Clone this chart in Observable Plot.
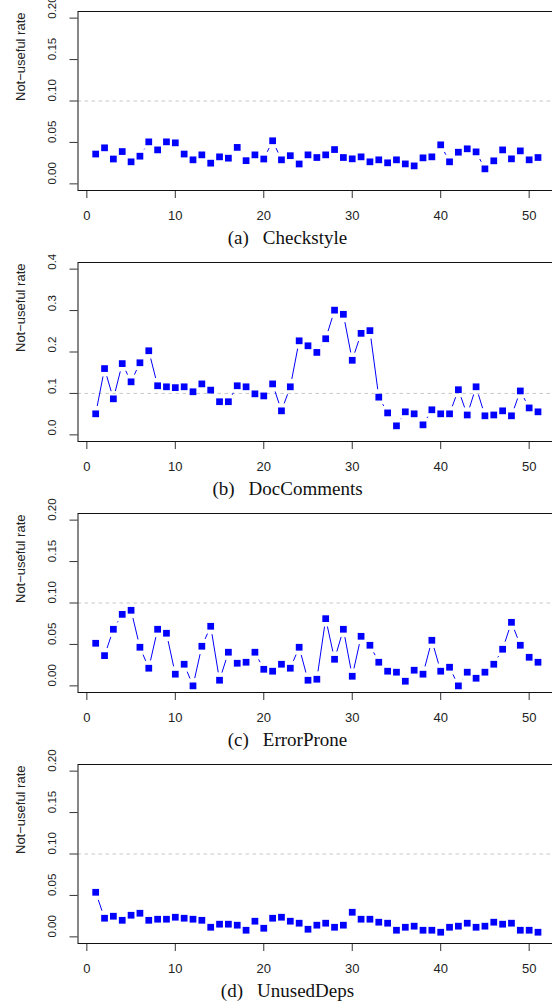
<!DOCTYPE html>
<html>
<head>
<meta charset="utf-8">
<script src="https://cdn.jsdelivr.net/npm/d3@7"></script>
<script src="https://cdn.jsdelivr.net/npm/@observablehq/plot@0.6"></script>
<style>
  html, body { margin: 0; padding: 0; background: white; overflow: hidden; }
  .block { position: relative; width: 552px; height: 251px; }
  .cap { position: absolute; left: 0; top: 225px; width: 552px; height: 26px; line-height: 26px;
         font-family: "Liberation Serif", "Times New Roman", serif; font-size: 19px; color: #111;
         text-align: center; padding-left: 23px; box-sizing: border-box; white-space: nowrap; }
  .cap .nm { margin-left: 14px; }
</style>
</head>
<body>
<div id="root"></div>
<script>
// ---- data ----
const builds = d3.range(1, 52); // x: 1..51

const checkstyle = [0.036,0.0435,0.030,0.039,0.0266,0.0334,0.0507,0.041,0.0507,0.0495,
  0.036,0.029,0.035,0.025,0.0326,0.031,0.044,0.028,0.035,0.030,
  0.052,0.029,0.034,0.024,0.035,0.0318,0.035,0.0414,0.0318,0.0302,
  0.0326,0.0266,0.029,0.0254,0.029,0.0241,0.0217,0.0314,0.0326,0.0471,
  0.0266,0.0382,0.0423,0.0386,0.0181,0.0278,0.041,0.0302,0.0398,0.029,0.0318];

const docComments = [0.0508,0.160,0.087,0.172,0.128,0.174,0.203,0.1185,0.116,0.114,
  0.116,0.104,0.123,0.108,0.080,0.080,0.1185,0.116,0.099,0.094,
  0.123,0.058,0.116,0.227,0.215,0.199,0.232,0.301,0.291,0.180,
  0.245,0.2516,0.091,0.053,0.0218,0.0556,0.0508,0.0242,0.0605,0.0508,
  0.0508,0.109,0.048,0.116,0.046,0.048,0.058,0.046,0.106,0.065,0.0556];

const errorProne = [0.0514,0.0365,0.0683,0.0863,0.0912,0.0466,0.0213,0.0683,0.0635,0.0141,
  0.0261,0.0,0.0478,0.0719,0.0068,0.0406,0.0273,0.0285,0.0406,0.020,
  0.0177,0.0261,0.0213,0.0466,0.0068,0.008,0.0811,0.0321,0.0683,0.0116,
  0.0598,0.049,0.0285,0.0177,0.0165,0.0056,0.0189,0.0141,0.055,0.0177,
  0.0225,0.0,0.0165,0.0092,0.0165,0.0261,0.0442,0.0767,0.049,0.0345,0.0285];

const unusedDeps = [0.0538,0.0225,0.0249,0.020,0.0261,0.0285,0.020,0.0213,0.0213,0.0237,
  0.0225,0.0213,0.020,0.0116,0.0153,0.0153,0.0141,0.008,0.0189,0.0104,
  0.0225,0.0237,0.0189,0.0165,0.0092,0.0141,0.0165,0.0116,0.0141,0.0297,
  0.0213,0.0213,0.0177,0.0165,0.008,0.0116,0.0129,0.008,0.008,0.0056,
  0.0116,0.0129,0.0165,0.0116,0.0129,0.0177,0.0153,0.0165,0.008,0.008,0.0056];

const xTicks = [0, 10, 20, 30, 40, 50];
const yTicksSmall = [0, 0.05, 0.10, 0.15, 0.20];
const yTickLabelsSmall = ["0.00", "0.05", "0.10", "0.15", "0.20"];
const yTicksLarge = [0, 0.1, 0.2, 0.3, 0.4];
const yTickLabelsLarge = ["0.0", "0.1", "0.2", "0.3", "0.4"];
const threshold = 0.1;
const yTitle = "Not\u2212useful rate";

const panels = [
  {tag: "(a)", name: "Checkstyle", values: checkstyle, ymax: 0.2, ticks: yTicksSmall, labels: yTickLabelsSmall},
  {tag: "(b)", name: "DocComments", values: docComments, ymax: 0.4, ticks: yTicksLarge, labels: yTickLabelsLarge},
  {tag: "(c)", name: "ErrorProne", values: errorProne, ymax: 0.2, ticks: yTicksSmall, labels: yTickLabelsSmall},
  {tag: "(d)", name: "UnusedDeps", values: unusedDeps, ymax: 0.2, ticks: yTicksSmall, labels: yTickLabelsSmall}
];

// R type="b": line segments with gaps around points
function gapRender(gap) {
  return (index, scales, values, dimensions, context, next) => {
    const {x1, y1, x2, y2} = values;
    const n = x1.length;
    const X1 = new Float64Array(n), Y1 = new Float64Array(n), X2 = new Float64Array(n), Y2 = new Float64Array(n);
    const keep = [];
    for (const i of index) {
      const dx = x2[i] - x1[i], dy = y2[i] - y1[i];
      const L = Math.hypot(dx, dy);
      if (L <= 2 * gap) continue;
      const ux = dx / L, uy = dy / L;
      X1[i] = x1[i] + ux * gap; Y1[i] = y1[i] + uy * gap;
      X2[i] = x2[i] - ux * gap; Y2[i] = y2[i] - uy * gap;
      keep.push(i);
    }
    return next(keep, scales, {...values, x1: X1, y1: Y1, x2: X2, y2: Y2}, dimensions, context);
  };
}

const blue = "#0000ff";
const root = document.getElementById("root");

for (const p of panels) {
  const pts = builds.map((b, i) => ({x: b, y: p.values[i]}));
  const segs = pts.slice(0, -1).map((d, i) => ({x1: d.x, y1: d.y, x2: pts[i + 1].x, y2: pts[i + 1].y}));
  const ext = p.ymax * 0.04;
  const labelOf = new Map(p.ticks.map((t, i) => [t, p.labels[i]]));

  const chart = Plot.plot({
    width: 552,
    height: 225,
    marginLeft: 77.5,
    marginRight: -3.2,
    marginTop: 11,
    marginBottom: 35,
    style: {fontFamily: "'Liberation Sans', Arial, sans-serif", fontSize: "13px", color: "#222", background: "white", overflow: "visible"},
    x: {domain: [-1, 53], axis: null},
    y: {domain: [-ext, p.ymax + ext], axis: null},
    marks: [
      Plot.ruleY([threshold], {stroke: "#c8c8c8", strokeDasharray: "3.5,3.5", strokeWidth: 1}),
      Plot.link(segs, {x1: "x1", y1: "y1", x2: "x2", y2: "y2", stroke: blue, strokeWidth: 1, render: gapRender(8)}),
      Plot.dot(pts, {x: "x", y: "y", symbol: "square", r: 3.8, fill: blue, stroke: "none"}),
      Plot.axisX({ticks: xTicks, tickSize: 8, tickPadding: 12, stroke: "#333", label: null, tickFormat: d3.format("d")}),
      Plot.axisY({ticks: p.ticks, tickSize: 8, stroke: "#333", label: null, tickFormat: () => ""}),
      Plot.text(p.ticks, {y: d => d, text: d => labelOf.get(d), frameAnchor: "left", dx: -25.5, dy: 0.6, rotate: -90, fill: "#222", fontSize: 11.5}),
      Plot.text([yTitle], {text: d => d, frameAnchor: "left", dx: -57.5, rotate: -90, fill: "#222"}),
      Plot.frame({stroke: "#111", strokeWidth: 1})
    ]
  });

  const block = document.createElement("div");
  block.className = "block";
  block.appendChild(chart);
  const cap = document.createElement("div");
  cap.className = "cap";
  cap.innerHTML = `${p.tag}<span class="nm">${p.name}</span>`;
  block.appendChild(cap);
  root.appendChild(block);
}
</script>
</body>
</html>
